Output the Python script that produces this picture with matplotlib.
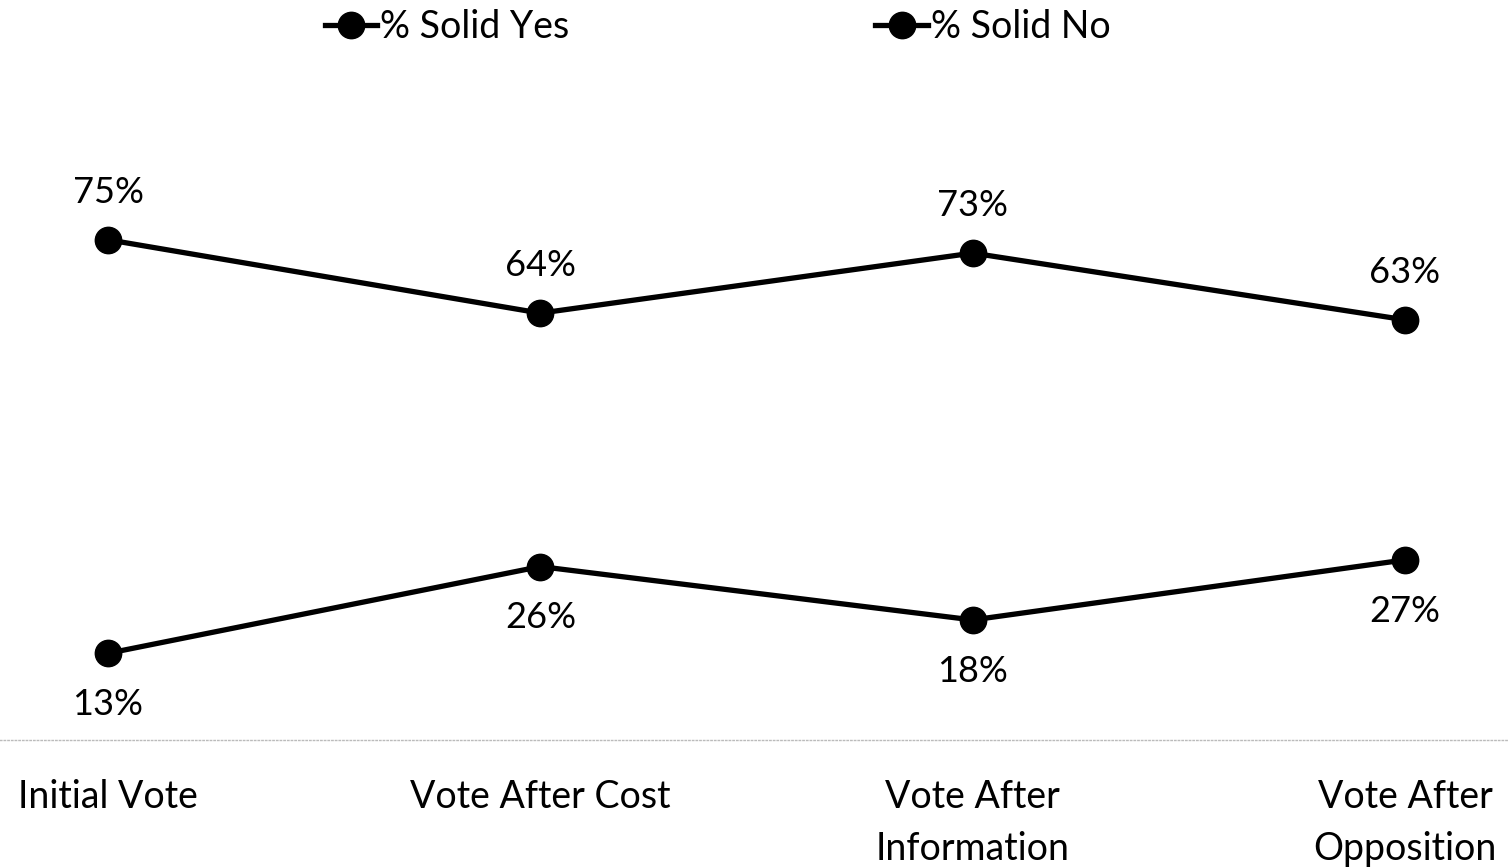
import matplotlib.pyplot as plt

plt.rcParams['font.family'] = ['Lato', 'DejaVu Sans']

# Daten
categories = ["Initial Vote", "Vote After Cost", "Vote After\nInformation", "Vote After\nOpposition"]
solid_yes = [75, 64, 73, 63]
solid_no = [13, 26, 18, 27]

fig = plt.figure(figsize=(15.08, 8.68), dpi=100)
ax = fig.add_axes([0, 128 / 868, 1, (740 - 73) / 868])

x = range(len(categories))
ax.plot(x, solid_yes, "-o", color="black", lw=3.8, ms=19, label="% Solid Yes")
ax.plot(x, solid_no, "-o", color="black", lw=3.8, ms=19, label="% Solid No")

for i in x:
    ax.annotate(f"{solid_yes[i]}%", (i, solid_yes[i]), xytext=(0, 34), textcoords="offset points",
                ha="center", va="center", fontsize=26)
    ax.annotate(f"{solid_no[i]}%", (i, solid_no[i]), xytext=(0, -37), textcoords="offset points",
                ha="center", va="center", fontsize=26)

step = (1405 - 108) / 3
x0 = -108 / step
ax.set_xlim(x0, x0 + 1508 / step)
ax.set_ylim(0, 100)

ax.set_xticks(list(x))
ax.set_xticklabels(categories, fontsize=27, linespacing=1.55, va="top")
ax.tick_params(axis="x", length=0, pad=28)
ax.set_yticks([])
for s in ["top", "right", "left"]:
    ax.spines[s].set_visible(False)
ax.spines["bottom"].set_color("#bbbbbb")
ax.spines["bottom"].set_linestyle(":")
ax.spines["bottom"].set_linewidth(1)

leg = fig.legend(loc="upper center", bbox_to_anchor=(0.476, 1.028), ncol=2, frameon=False,
                 fontsize=27, handlelength=1.4, handletextpad=0.08, columnspacing=8.15,
                 markerscale=1.0)

fig.savefig("out.png", dpi=100)
